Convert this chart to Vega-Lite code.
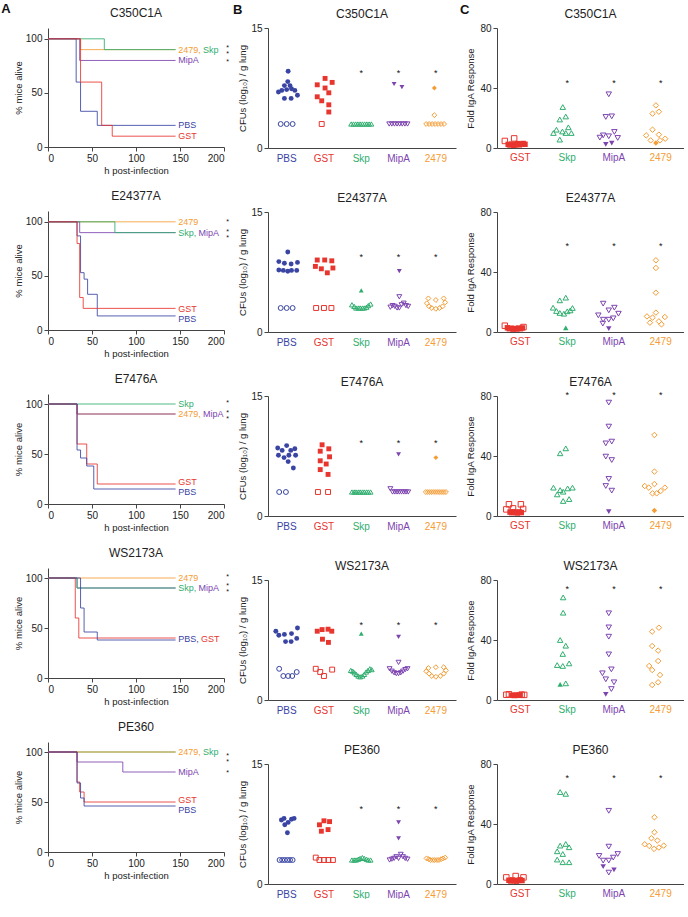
{
"$schema":"https://vega.github.io/schema/vega-lite/v6.json",
"padding":{"left":1,"top":3,"right":0,"bottom":0},
"datasets":{
"surv":[
{"st":"C350C1A","g":"2479","t":0,"s":100},{"st":"C350C1A","g":"2479","t":37,"s":90},{"st":"C350C1A","g":"2479","t":145,"s":90},
{"st":"C350C1A","g":"Skp","t":0,"s":100},{"st":"C350C1A","g":"Skp","t":64,"s":90},{"st":"C350C1A","g":"Skp","t":145,"s":90},
{"st":"C350C1A","g":"MipA","t":0,"s":100},{"st":"C350C1A","g":"MipA","t":36,"s":80},{"st":"C350C1A","g":"MipA","t":145,"s":80},
{"st":"C350C1A","g":"PBS","t":0,"s":100},{"st":"C350C1A","g":"PBS","t":32,"s":60},{"st":"C350C1A","g":"PBS","t":37,"s":33},{"st":"C350C1A","g":"PBS","t":56,"s":20},{"st":"C350C1A","g":"PBS","t":145,"s":20},
{"st":"C350C1A","g":"GST","t":0,"s":100},{"st":"C350C1A","g":"GST","t":37,"s":60},{"st":"C350C1A","g":"GST","t":61,"s":20},{"st":"C350C1A","g":"GST","t":73,"s":10},{"st":"C350C1A","g":"GST","t":145,"s":10},
{"st":"E24377A","g":"2479","t":0,"s":100},{"st":"E24377A","g":"2479","t":145,"s":100},
{"st":"E24377A","g":"MipA","t":0,"s":100},{"st":"E24377A","g":"MipA","t":36,"s":90},{"st":"E24377A","g":"MipA","t":145,"s":90},
{"st":"E24377A","g":"Skp","t":0,"s":100},{"st":"E24377A","g":"Skp","t":76,"s":90},{"st":"E24377A","g":"Skp","t":145,"s":90},
{"st":"E24377A","g":"PBS","t":0,"s":100},{"st":"E24377A","g":"PBS","t":33,"s":87},{"st":"E24377A","g":"PBS","t":37,"s":53},{"st":"E24377A","g":"PBS","t":41,"s":47},{"st":"E24377A","g":"PBS","t":45,"s":33},{"st":"E24377A","g":"PBS","t":56,"s":13},{"st":"E24377A","g":"PBS","t":145,"s":13},
{"st":"E24377A","g":"GST","t":0,"s":100},{"st":"E24377A","g":"GST","t":33,"s":80},{"st":"E24377A","g":"GST","t":36,"s":30},{"st":"E24377A","g":"GST","t":40,"s":20},{"st":"E24377A","g":"GST","t":145,"s":20},
{"st":"E7476A","g":"2479","t":0,"s":100},{"st":"E7476A","g":"2479","t":33,"s":90},{"st":"E7476A","g":"2479","t":145,"s":90},
{"st":"E7476A","g":"MipA","t":0,"s":100},{"st":"E7476A","g":"MipA","t":33,"s":90},{"st":"E7476A","g":"MipA","t":145,"s":90},
{"st":"E7476A","g":"Skp","t":0,"s":100},{"st":"E7476A","g":"Skp","t":145,"s":100},
{"st":"E7476A","g":"GST","t":0,"s":100},{"st":"E7476A","g":"GST","t":33,"s":60},{"st":"E7476A","g":"GST","t":44,"s":40},{"st":"E7476A","g":"GST","t":56,"s":20},{"st":"E7476A","g":"GST","t":145,"s":20},
{"st":"E7476A","g":"PBS","t":0,"s":100},{"st":"E7476A","g":"PBS","t":33,"s":54},{"st":"E7476A","g":"PBS","t":37,"s":46},{"st":"E7476A","g":"PBS","t":44,"s":38},{"st":"E7476A","g":"PBS","t":52,"s":15},{"st":"E7476A","g":"PBS","t":145,"s":15},
{"st":"WS2173A","g":"2479","t":0,"s":100},{"st":"WS2173A","g":"2479","t":145,"s":100},
{"st":"WS2173A","g":"MipA","t":0,"s":100},{"st":"WS2173A","g":"MipA","t":33,"s":90},{"st":"WS2173A","g":"MipA","t":145,"s":90},
{"st":"WS2173A","g":"Skp","t":0,"s":100},{"st":"WS2173A","g":"Skp","t":33,"s":90},{"st":"WS2173A","g":"Skp","t":145,"s":90},
{"st":"WS2173A","g":"GST","t":0,"s":100},{"st":"WS2173A","g":"GST","t":31,"s":60},{"st":"WS2173A","g":"GST","t":35,"s":40},{"st":"WS2173A","g":"GST","t":145,"s":40},
{"st":"WS2173A","g":"PBS","t":0,"s":100},{"st":"WS2173A","g":"PBS","t":37,"s":70},{"st":"WS2173A","g":"PBS","t":41,"s":46},{"st":"WS2173A","g":"PBS","t":56,"s":38},{"st":"WS2173A","g":"PBS","t":145,"s":38},
{"st":"PE360","g":"Skp","t":0,"s":100},{"st":"PE360","g":"Skp","t":145,"s":100},
{"st":"PE360","g":"2479","t":0,"s":100},{"st":"PE360","g":"2479","t":145,"s":100},
{"st":"PE360","g":"MipA","t":0,"s":100},{"st":"PE360","g":"MipA","t":33,"s":90},{"st":"PE360","g":"MipA","t":85,"s":80},{"st":"PE360","g":"MipA","t":145,"s":80},
{"st":"PE360","g":"GST","t":0,"s":100},{"st":"PE360","g":"GST","t":33,"s":70},{"st":"PE360","g":"GST","t":36,"s":60},{"st":"PE360","g":"GST","t":41,"s":50},{"st":"PE360","g":"GST","t":145,"s":50},
{"st":"PE360","g":"PBS","t":0,"s":100},{"st":"PE360","g":"PBS","t":33,"s":69},{"st":"PE360","g":"PBS","t":37,"s":54},{"st":"PE360","g":"PBS","t":41,"s":46},{"st":"PE360","g":"PBS","t":145,"s":46}
],
"survlab":[
{"st":"C350C1A","g":"2479","txt":"2479,","t":148,"s":90},{"st":"C350C1A","g":"Skp","txt":"Skp","t":176,"s":90},{"st":"C350C1A","g":"MipA","txt":"MipA","t":148,"s":80},{"st":"C350C1A","g":"PBS","txt":"PBS","t":148,"s":20},{"st":"C350C1A","g":"GST","txt":"GST","t":148,"s":10},
{"st":"E24377A","g":"2479","txt":"2479","t":148,"s":100},{"st":"E24377A","g":"Skp","txt":"Skp,","t":148,"s":90},{"st":"E24377A","g":"MipA","txt":"MipA","t":171,"s":90},{"st":"E24377A","g":"GST","txt":"GST","t":148,"s":19.5},{"st":"E24377A","g":"PBS","txt":"PBS","t":148,"s":10.5},
{"st":"E7476A","g":"Skp","txt":"Skp","t":148,"s":100},{"st":"E7476A","g":"2479","txt":"2479,","t":148,"s":90},{"st":"E7476A","g":"MipA","txt":"MipA","t":176,"s":90},{"st":"E7476A","g":"GST","txt":"GST","t":148,"s":22.5},{"st":"E7476A","g":"PBS","txt":"PBS","t":148,"s":12.5},
{"st":"WS2173A","g":"2479","txt":"2479","t":148,"s":100},{"st":"WS2173A","g":"Skp","txt":"Skp,","t":148,"s":90},{"st":"WS2173A","g":"MipA","txt":"MipA","t":171,"s":90},{"st":"WS2173A","g":"PBS","txt":"PBS,","t":148,"s":39},{"st":"WS2173A","g":"GST","txt":"GST","t":174,"s":39},
{"st":"PE360","g":"2479","txt":"2479,","t":148,"s":100},{"st":"PE360","g":"Skp","txt":"Skp","t":176,"s":100},{"st":"PE360","g":"MipA","txt":"MipA","t":148,"s":80},{"st":"PE360","g":"GST","txt":"GST","t":148,"s":52.5},{"st":"PE360","g":"PBS","txt":"PBS","t":148,"s":42.5}
],
"survstar":[
{"st":"C350C1A","t":204,"s":91.5,"txt":"*\n*"},{"st":"C350C1A","t":204,"s":79,"txt":"*"},
{"st":"E24377A","t":204,"s":100,"txt":"*"},{"st":"E24377A","t":204,"s":90.5,"txt":"*\n*"},
{"st":"E7476A","t":204,"s":101,"txt":"*"},{"st":"E7476A","t":204,"s":91.5,"txt":"*\n*"},
{"st":"WS2173A","t":204,"s":101,"txt":"*"},{"st":"WS2173A","t":204,"s":92,"txt":"*\n*"},
{"st":"PE360","t":204,"s":96.5,"txt":"*\n*"},{"st":"PE360","t":204,"s":79,"txt":"*"}
],
"cfu":[
{"st":"C350C1A","g":"PBS","o":0.4,"v":9.6,"f":1},{"st":"C350C1A","g":"PBS","o":0.3,"v":8.3,"f":1},{"st":"C350C1A","g":"PBS","o":0.9,"v":7.8,"f":1},{"st":"C350C1A","g":"PBS","o":-0.6,"v":7.8,"f":1},{"st":"C350C1A","g":"PBS","o":1.3,"v":7.4,"f":1},{"st":"C350C1A","g":"PBS","o":0,"v":7.3,"f":1},{"st":"C350C1A","g":"PBS","o":-1.3,"v":7.2,"f":1},{"st":"C350C1A","g":"PBS","o":-2.2,"v":7.0,"f":1},{"st":"C350C1A","g":"PBS","o":2.2,"v":7.2,"f":1},{"st":"C350C1A","g":"PBS","o":2.9,"v":6.6,"f":1},{"st":"C350C1A","g":"PBS","o":-0.6,"v":6.2,"f":1},{"st":"C350C1A","g":"PBS","o":1.2,"v":6.2,"f":1},
{"st":"C350C1A","g":"PBS","o":-1.6,"v":3,"f":0},{"st":"C350C1A","g":"PBS","o":0,"v":3,"f":0},{"st":"C350C1A","g":"PBS","o":1.6,"v":3,"f":0},
{"st":"C350C1A","g":"GST","o":0.3,"v":8.7,"f":1},{"st":"C350C1A","g":"GST","o":2.2,"v":8.2,"f":1},{"st":"C350C1A","g":"GST","o":-1.8,"v":7.9,"f":1},{"st":"C350C1A","g":"GST","o":0.3,"v":7.5,"f":1},{"st":"C350C1A","g":"GST","o":1.3,"v":6.9,"f":1},{"st":"C350C1A","g":"GST","o":-1.8,"v":6.4,"f":1},{"st":"C350C1A","g":"GST","o":-0.6,"v":5.9,"f":1},{"st":"C350C1A","g":"GST","o":1.3,"v":5.4,"f":1},{"st":"C350C1A","g":"GST","o":1.3,"v":4.5,"f":1},
{"st":"C350C1A","g":"GST","o":-0.6,"v":3,"f":0},
{"st":"C350C1A","g":"Skp","o":-2.7,"v":3,"f":0},{"st":"C350C1A","g":"Skp","o":-2.1,"v":3,"f":0},{"st":"C350C1A","g":"Skp","o":-1.5,"v":3,"f":0},{"st":"C350C1A","g":"Skp","o":-0.9,"v":3,"f":0},{"st":"C350C1A","g":"Skp","o":-0.3,"v":3,"f":0},{"st":"C350C1A","g":"Skp","o":0.3,"v":3,"f":0},{"st":"C350C1A","g":"Skp","o":0.9,"v":3,"f":0},{"st":"C350C1A","g":"Skp","o":1.5,"v":3,"f":0},{"st":"C350C1A","g":"Skp","o":2.1,"v":3,"f":0},{"st":"C350C1A","g":"Skp","o":2.7,"v":3,"f":0},
{"st":"C350C1A","g":"MipA","o":-1.2,"v":8.0,"f":1},{"st":"C350C1A","g":"MipA","o":0.9,"v":7.6,"f":1},
{"st":"C350C1A","g":"MipA","o":-2.5,"v":3,"f":0},{"st":"C350C1A","g":"MipA","o":-1.8,"v":3,"f":0},{"st":"C350C1A","g":"MipA","o":-1.1,"v":3,"f":0},{"st":"C350C1A","g":"MipA","o":-0.4,"v":3,"f":0},{"st":"C350C1A","g":"MipA","o":0.3,"v":3,"f":0},{"st":"C350C1A","g":"MipA","o":1.0,"v":3,"f":0},{"st":"C350C1A","g":"MipA","o":1.7,"v":3,"f":0},{"st":"C350C1A","g":"MipA","o":2.4,"v":3,"f":0},
{"st":"C350C1A","g":"2479","o":-0.4,"v":7.5,"f":1},
{"st":"C350C1A","g":"2479","o":-0.4,"v":4.1,"f":0},{"st":"C350C1A","g":"2479","o":-2.6,"v":3,"f":0},{"st":"C350C1A","g":"2479","o":-1.8,"v":3,"f":0},{"st":"C350C1A","g":"2479","o":-1.0,"v":3,"f":0},{"st":"C350C1A","g":"2479","o":-0.2,"v":3,"f":0},{"st":"C350C1A","g":"2479","o":0.6,"v":3,"f":0},{"st":"C350C1A","g":"2479","o":1.4,"v":3,"f":0},{"st":"C350C1A","g":"2479","o":2.2,"v":3,"f":0},

{"st":"E24377A","g":"PBS","o":0.3,"v":10.0,"f":1},{"st":"E24377A","g":"PBS","o":-2.1,"v":8.8,"f":1},{"st":"E24377A","g":"PBS","o":-0.6,"v":8.6,"f":1},{"st":"E24377A","g":"PBS","o":1.2,"v":8.5,"f":1},{"st":"E24377A","g":"PBS","o":2.9,"v":8.7,"f":1},{"st":"E24377A","g":"PBS","o":-2.1,"v":7.75,"f":1},{"st":"E24377A","g":"PBS","o":-0.9,"v":7.7,"f":1},{"st":"E24377A","g":"PBS","o":0.3,"v":7.6,"f":1},{"st":"E24377A","g":"PBS","o":1.3,"v":7.7,"f":1},{"st":"E24377A","g":"PBS","o":2.7,"v":7.7,"f":1},
{"st":"E24377A","g":"PBS","o":-1.6,"v":3,"f":0},{"st":"E24377A","g":"PBS","o":0,"v":3,"f":0},{"st":"E24377A","g":"PBS","o":1.6,"v":3,"f":0},
{"st":"E24377A","g":"GST","o":-1.8,"v":9.0,"f":1},{"st":"E24377A","g":"GST","o":0.2,"v":9.0,"f":1},{"st":"E24377A","g":"GST","o":2.1,"v":8.9,"f":1},{"st":"E24377A","g":"GST","o":-2.3,"v":8.2,"f":1},{"st":"E24377A","g":"GST","o":-0.7,"v":7.9,"f":1},{"st":"E24377A","g":"GST","o":0.9,"v":7.4,"f":1},{"st":"E24377A","g":"GST","o":2.4,"v":8.0,"f":1},
{"st":"E24377A","g":"GST","o":-2.1,"v":3,"f":0},{"st":"E24377A","g":"GST","o":0,"v":3,"f":0},{"st":"E24377A","g":"GST","o":2.0,"v":3,"f":0},
{"st":"E24377A","g":"Skp","o":0,"v":5.2,"f":1},
{"st":"E24377A","g":"Skp","o":-2.5,"v":3.4,"f":0},{"st":"E24377A","g":"Skp","o":-1.9,"v":3.2,"f":0},{"st":"E24377A","g":"Skp","o":-1.4,"v":3.0,"f":0},{"st":"E24377A","g":"Skp","o":-0.8,"v":3.0,"f":0},{"st":"E24377A","g":"Skp","o":-0.3,"v":3.0,"f":0},{"st":"E24377A","g":"Skp","o":0.3,"v":3.0,"f":0},{"st":"E24377A","g":"Skp","o":0.8,"v":3.0,"f":0},{"st":"E24377A","g":"Skp","o":1.4,"v":3.1,"f":0},{"st":"E24377A","g":"Skp","o":1.9,"v":3.3,"f":0},{"st":"E24377A","g":"Skp","o":2.5,"v":3.5,"f":0},
{"st":"E24377A","g":"MipA","o":0.2,"v":7.6,"f":1},
{"st":"E24377A","g":"MipA","o":0.2,"v":4.4,"f":0},{"st":"E24377A","g":"MipA","o":-2.2,"v":3.1,"f":0},{"st":"E24377A","g":"MipA","o":-1.6,"v":3.3,"f":0},{"st":"E24377A","g":"MipA","o":-1.0,"v":3.2,"f":0},{"st":"E24377A","g":"MipA","o":-0.4,"v":3.0,"f":0},{"st":"E24377A","g":"MipA","o":0.2,"v":3.0,"f":0},{"st":"E24377A","g":"MipA","o":0.8,"v":3.4,"f":0},{"st":"E24377A","g":"MipA","o":1.4,"v":3.6,"f":0},{"st":"E24377A","g":"MipA","o":2.0,"v":3.3,"f":0},{"st":"E24377A","g":"MipA","o":2.6,"v":3.2,"f":0},
{"st":"E24377A","g":"2479","o":-2.0,"v":4.2,"f":0},{"st":"E24377A","g":"2479","o":0,"v":4.0,"f":0},{"st":"E24377A","g":"2479","o":2.1,"v":4.2,"f":0},{"st":"E24377A","g":"2479","o":-2.4,"v":3.6,"f":0},{"st":"E24377A","g":"2479","o":-1.8,"v":3.2,"f":0},{"st":"E24377A","g":"2479","o":-1.1,"v":3.0,"f":0},{"st":"E24377A","g":"2479","o":0,"v":2.9,"f":0},{"st":"E24377A","g":"2479","o":1.0,"v":3.0,"f":0},{"st":"E24377A","g":"2479","o":1.8,"v":3.2,"f":0},{"st":"E24377A","g":"2479","o":2.5,"v":3.7,"f":0},

{"st":"E7476A","g":"PBS","o":0,"v":8.8,"f":1},{"st":"E7476A","g":"PBS","o":-2.4,"v":8.5,"f":1},{"st":"E7476A","g":"PBS","o":-1.2,"v":8.2,"f":1},{"st":"E7476A","g":"PBS","o":1.1,"v":8.2,"f":1},{"st":"E7476A","g":"PBS","o":2.2,"v":8.4,"f":1},{"st":"E7476A","g":"PBS","o":-2.2,"v":7.6,"f":1},{"st":"E7476A","g":"PBS","o":-0.7,"v":7.3,"f":1},{"st":"E7476A","g":"PBS","o":0.6,"v":7.6,"f":1},{"st":"E7476A","g":"PBS","o":2.4,"v":7.6,"f":1},{"st":"E7476A","g":"PBS","o":0.4,"v":6.8,"f":1},{"st":"E7476A","g":"PBS","o":1.8,"v":6.0,"f":1},
{"st":"E7476A","g":"PBS","o":-2.0,"v":3,"f":0},{"st":"E7476A","g":"PBS","o":-0.2,"v":3,"f":0},
{"st":"E7476A","g":"GST","o":-0.5,"v":8.9,"f":1},{"st":"E7476A","g":"GST","o":1.3,"v":8.4,"f":1},{"st":"E7476A","g":"GST","o":-1.0,"v":8.1,"f":1},{"st":"E7476A","g":"GST","o":1.5,"v":7.4,"f":1},{"st":"E7476A","g":"GST","o":-1.0,"v":6.9,"f":1},{"st":"E7476A","g":"GST","o":0.6,"v":6.5,"f":1},{"st":"E7476A","g":"GST","o":-1.0,"v":5.8,"f":1},{"st":"E7476A","g":"GST","o":1.1,"v":5.2,"f":1},
{"st":"E7476A","g":"GST","o":-1.6,"v":3,"f":0},{"st":"E7476A","g":"GST","o":1.1,"v":3,"f":0},
{"st":"E7476A","g":"Skp","o":-2.5,"v":3,"f":0},{"st":"E7476A","g":"Skp","o":-1.9,"v":3,"f":0},{"st":"E7476A","g":"Skp","o":-1.4,"v":3,"f":0},{"st":"E7476A","g":"Skp","o":-0.8,"v":3,"f":0},{"st":"E7476A","g":"Skp","o":-0.3,"v":3,"f":0},{"st":"E7476A","g":"Skp","o":0.3,"v":3,"f":0},{"st":"E7476A","g":"Skp","o":0.8,"v":3,"f":0},{"st":"E7476A","g":"Skp","o":1.4,"v":3,"f":0},{"st":"E7476A","g":"Skp","o":1.9,"v":3,"f":0},{"st":"E7476A","g":"Skp","o":2.5,"v":3,"f":0},
{"st":"E7476A","g":"MipA","o":0,"v":7.7,"f":1},
{"st":"E7476A","g":"MipA","o":-2.2,"v":3.4,"f":0},{"st":"E7476A","g":"MipA","o":-1.6,"v":3,"f":0},{"st":"E7476A","g":"MipA","o":-1.0,"v":3,"f":0},{"st":"E7476A","g":"MipA","o":-0.4,"v":3,"f":0},{"st":"E7476A","g":"MipA","o":0.2,"v":3,"f":0},{"st":"E7476A","g":"MipA","o":0.8,"v":3,"f":0},{"st":"E7476A","g":"MipA","o":1.4,"v":3,"f":0},{"st":"E7476A","g":"MipA","o":2.0,"v":3,"f":0},{"st":"E7476A","g":"MipA","o":2.6,"v":3,"f":0},
{"st":"E7476A","g":"2479","o":0,"v":7.3,"f":1},
{"st":"E7476A","g":"2479","o":-2.7,"v":3,"f":0},{"st":"E7476A","g":"2479","o":-2.16,"v":3,"f":0},{"st":"E7476A","g":"2479","o":-1.62,"v":3,"f":0},{"st":"E7476A","g":"2479","o":-1.08,"v":3,"f":0},{"st":"E7476A","g":"2479","o":-0.54,"v":3,"f":0},{"st":"E7476A","g":"2479","o":0,"v":3,"f":0},{"st":"E7476A","g":"2479","o":0.54,"v":3,"f":0},{"st":"E7476A","g":"2479","o":1.08,"v":3,"f":0},{"st":"E7476A","g":"2479","o":1.62,"v":3,"f":0},{"st":"E7476A","g":"2479","o":2.16,"v":3,"f":0},{"st":"E7476A","g":"2479","o":2.7,"v":3,"f":0},

{"st":"WS2173A","g":"PBS","o":-2.9,"v":8.6,"f":1},{"st":"WS2173A","g":"PBS","o":-2.1,"v":8.1,"f":1},{"st":"WS2173A","g":"PBS","o":-0.6,"v":8.2,"f":1},{"st":"WS2173A","g":"PBS","o":1.3,"v":8.3,"f":1},{"st":"WS2173A","g":"PBS","o":2.9,"v":9.0,"f":1},{"st":"WS2173A","g":"PBS","o":-0.3,"v":7.3,"f":1},{"st":"WS2173A","g":"PBS","o":1.2,"v":7.3,"f":1},{"st":"WS2173A","g":"PBS","o":2.7,"v":7.7,"f":1},
{"st":"WS2173A","g":"PBS","o":-2.0,"v":3.9,"f":0},{"st":"WS2173A","g":"PBS","o":-0.9,"v":3.0,"f":0},{"st":"WS2173A","g":"PBS","o":0.4,"v":3.0,"f":0},{"st":"WS2173A","g":"PBS","o":1.5,"v":3.0,"f":0},{"st":"WS2173A","g":"PBS","o":2.7,"v":3.5,"f":0},
{"st":"WS2173A","g":"GST","o":-1.8,"v":8.6,"f":1},{"st":"WS2173A","g":"GST","o":-0.5,"v":8.8,"f":1},{"st":"WS2173A","g":"GST","o":1.1,"v":8.85,"f":1},{"st":"WS2173A","g":"GST","o":2.1,"v":8.6,"f":1},{"st":"WS2173A","g":"GST","o":-0.4,"v":7.6,"f":1},{"st":"WS2173A","g":"GST","o":1.2,"v":7.2,"f":1},
{"st":"WS2173A","g":"GST","o":-2.2,"v":3.9,"f":0},{"st":"WS2173A","g":"GST","o":-1.0,"v":3.5,"f":0},{"st":"WS2173A","g":"GST","o":0,"v":3.0,"f":0},{"st":"WS2173A","g":"GST","o":2.2,"v":3.8,"f":0},
{"st":"WS2173A","g":"Skp","o":0,"v":8.3,"f":1},
{"st":"WS2173A","g":"Skp","o":-2.8,"v":3.7,"f":0},{"st":"WS2173A","g":"Skp","o":-2.3,"v":3.6,"f":0},{"st":"WS2173A","g":"Skp","o":-1.8,"v":3.4,"f":0},{"st":"WS2173A","g":"Skp","o":-1.3,"v":3.2,"f":0},{"st":"WS2173A","g":"Skp","o":-0.8,"v":3.0,"f":0},{"st":"WS2173A","g":"Skp","o":-0.3,"v":2.9,"f":0},{"st":"WS2173A","g":"Skp","o":0.3,"v":3.0,"f":0},{"st":"WS2173A","g":"Skp","o":0.8,"v":3.2,"f":0},{"st":"WS2173A","g":"Skp","o":1.3,"v":3.5,"f":0},{"st":"WS2173A","g":"Skp","o":1.8,"v":3.7,"f":0},{"st":"WS2173A","g":"Skp","o":2.3,"v":3.9,"f":0},{"st":"WS2173A","g":"Skp","o":2.8,"v":3.8,"f":0},
{"st":"WS2173A","g":"MipA","o":0,"v":7.9,"f":1},
{"st":"WS2173A","g":"MipA","o":0,"v":4.7,"f":0},{"st":"WS2173A","g":"MipA","o":-2.4,"v":3.9,"f":0},{"st":"WS2173A","g":"MipA","o":-1.8,"v":3.6,"f":0},{"st":"WS2173A","g":"MipA","o":-1.2,"v":3.4,"f":0},{"st":"WS2173A","g":"MipA","o":-0.6,"v":3.3,"f":0},{"st":"WS2173A","g":"MipA","o":0,"v":3.3,"f":0},{"st":"WS2173A","g":"MipA","o":0.6,"v":3.4,"f":0},{"st":"WS2173A","g":"MipA","o":1.2,"v":3.6,"f":0},{"st":"WS2173A","g":"MipA","o":1.8,"v":3.8,"f":0},{"st":"WS2173A","g":"MipA","o":2.4,"v":3.9,"f":0},
{"st":"WS2173A","g":"2479","o":-2.0,"v":4.0,"f":0},{"st":"WS2173A","g":"2479","o":0,"v":4.1,"f":0},{"st":"WS2173A","g":"2479","o":2.1,"v":4.1,"f":0},{"st":"WS2173A","g":"2479","o":-2.6,"v":3.6,"f":0},{"st":"WS2173A","g":"2479","o":-1.8,"v":3.3,"f":0},{"st":"WS2173A","g":"2479","o":-1.1,"v":3.0,"f":0},{"st":"WS2173A","g":"2479","o":0,"v":2.9,"f":0},{"st":"WS2173A","g":"2479","o":1.2,"v":3.0,"f":0},{"st":"WS2173A","g":"2479","o":2.1,"v":3.3,"f":0},{"st":"WS2173A","g":"2479","o":2.7,"v":3.7,"f":0},

{"st":"PE360","g":"PBS","o":-1.4,"v":8.0,"f":1},{"st":"PE360","g":"PBS","o":-0.7,"v":8.2,"f":1},{"st":"PE360","g":"PBS","o":1.3,"v":8.1,"f":1},{"st":"PE360","g":"PBS","o":2.0,"v":8.2,"f":1},{"st":"PE360","g":"PBS","o":0.4,"v":7.7,"f":1},{"st":"PE360","g":"PBS","o":-0.5,"v":7.4,"f":1},{"st":"PE360","g":"PBS","o":0.2,"v":6.4,"f":1},
{"st":"PE360","g":"PBS","o":-1.9,"v":3,"f":0},{"st":"PE360","g":"PBS","o":-1.2,"v":3,"f":0},{"st":"PE360","g":"PBS","o":-0.5,"v":3,"f":0},{"st":"PE360","g":"PBS","o":0.2,"v":3,"f":0},{"st":"PE360","g":"PBS","o":0.9,"v":3,"f":0},{"st":"PE360","g":"PBS","o":1.6,"v":3,"f":0},
{"st":"PE360","g":"GST","o":-1.2,"v":7.4,"f":1},{"st":"PE360","g":"GST","o":0,"v":7.9,"f":1},{"st":"PE360","g":"GST","o":1.5,"v":7.8,"f":1},{"st":"PE360","g":"GST","o":-0.7,"v":6.6,"f":1},{"st":"PE360","g":"GST","o":1.1,"v":6.8,"f":1},
{"st":"PE360","g":"GST","o":-2.2,"v":3.3,"f":0},{"st":"PE360","g":"GST","o":-1.2,"v":3.0,"f":0},{"st":"PE360","g":"GST","o":0,"v":3.0,"f":0},{"st":"PE360","g":"GST","o":1.2,"v":3.0,"f":0},{"st":"PE360","g":"GST","o":2.4,"v":3.0,"f":0},
{"st":"PE360","g":"Skp","o":-2.5,"v":3.0,"f":0},{"st":"PE360","g":"Skp","o":-1.9,"v":3.0,"f":0},{"st":"PE360","g":"Skp","o":-1.4,"v":3.0,"f":0},{"st":"PE360","g":"Skp","o":-0.8,"v":3.1,"f":0},{"st":"PE360","g":"Skp","o":-0.3,"v":3.2,"f":0},{"st":"PE360","g":"Skp","o":0.3,"v":3.3,"f":0},{"st":"PE360","g":"Skp","o":0.8,"v":3.2,"f":0},{"st":"PE360","g":"Skp","o":1.4,"v":3.1,"f":0},{"st":"PE360","g":"Skp","o":1.9,"v":3.0,"f":0},{"st":"PE360","g":"Skp","o":2.5,"v":3.0,"f":0},
{"st":"PE360","g":"MipA","o":0,"v":7.7,"f":1},{"st":"PE360","g":"MipA","o":0,"v":5.7,"f":1},
{"st":"PE360","g":"MipA","o":-2.4,"v":3.0,"f":0},{"st":"PE360","g":"MipA","o":-1.8,"v":3.1,"f":0},{"st":"PE360","g":"MipA","o":-1.2,"v":3.2,"f":0},{"st":"PE360","g":"MipA","o":-0.6,"v":3.4,"f":0},{"st":"PE360","g":"MipA","o":0,"v":3.2,"f":0},{"st":"PE360","g":"MipA","o":0.6,"v":3.7,"f":0},{"st":"PE360","g":"MipA","o":1.2,"v":3.4,"f":0},{"st":"PE360","g":"MipA","o":1.8,"v":3.2,"f":0},{"st":"PE360","g":"MipA","o":2.4,"v":3.1,"f":0},
{"st":"PE360","g":"2479","o":-2.5,"v":3.2,"f":0},{"st":"PE360","g":"2479","o":-1.9,"v":3.1,"f":0},{"st":"PE360","g":"2479","o":-1.4,"v":3.0,"f":0},{"st":"PE360","g":"2479","o":-0.8,"v":3.0,"f":0},{"st":"PE360","g":"2479","o":-0.3,"v":3.0,"f":0},{"st":"PE360","g":"2479","o":0.3,"v":3.0,"f":0},{"st":"PE360","g":"2479","o":0.8,"v":3.0,"f":0},{"st":"PE360","g":"2479","o":1.4,"v":3.1,"f":0},{"st":"PE360","g":"2479","o":1.9,"v":3.2,"f":0},{"st":"PE360","g":"2479","o":2.5,"v":3.3,"f":0}
],
"cfustar":[
{"st":"C350C1A","g":"Skp","v":9.4},{"st":"C350C1A","g":"MipA","v":9.4},{"st":"C350C1A","g":"2479","v":9.4},
{"st":"E24377A","g":"Skp","v":9.4},{"st":"E24377A","g":"MipA","v":9.4},{"st":"E24377A","g":"2479","v":9.4},
{"st":"E7476A","g":"Skp","v":9.1},{"st":"E7476A","g":"MipA","v":9.1},{"st":"E7476A","g":"2479","v":9.1},
{"st":"WS2173A","g":"Skp","v":9.4},{"st":"WS2173A","g":"MipA","v":9.4},{"st":"WS2173A","g":"2479","v":9.4},
{"st":"PE360","g":"Skp","v":9.4},{"st":"PE360","g":"MipA","v":9.4},{"st":"PE360","g":"2479","v":9.4}
],
"iga":[
{"st":"C350C1A","g":"GST","o":-2.9,"v":4.7,"f":0},{"st":"C350C1A","g":"GST","o":-0.4,"v":6.4,"f":0},
{"st":"C350C1A","g":"GST","o":-2.0,"v":2.4,"f":1},{"st":"C350C1A","g":"GST","o":-1.5,"v":2.0,"f":1},{"st":"C350C1A","g":"GST","o":-1.0,"v":2.6,"f":1},{"st":"C350C1A","g":"GST","o":-0.5,"v":1.8,"f":1},{"st":"C350C1A","g":"GST","o":0,"v":2.2,"f":1},{"st":"C350C1A","g":"GST","o":0.5,"v":2.9,"f":1},{"st":"C350C1A","g":"GST","o":1.0,"v":2.1,"f":1},{"st":"C350C1A","g":"GST","o":1.5,"v":2.7,"f":1},{"st":"C350C1A","g":"GST","o":2.0,"v":3.0,"f":1},{"st":"C350C1A","g":"GST","o":2.5,"v":2.5,"f":1},
{"st":"C350C1A","g":"Skp","o":0.1,"v":27.3,"f":0},{"st":"C350C1A","g":"Skp","o":-0.7,"v":19,"f":0},{"st":"C350C1A","g":"Skp","o":0.9,"v":21,"f":0},{"st":"C350C1A","g":"Skp","o":-1.6,"v":12.2,"f":0},{"st":"C350C1A","g":"Skp","o":-2.4,"v":10,"f":0},{"st":"C350C1A","g":"Skp","o":0,"v":11,"f":0},{"st":"C350C1A","g":"Skp","o":1.6,"v":13.8,"f":0},{"st":"C350C1A","g":"Skp","o":0.9,"v":10,"f":0},{"st":"C350C1A","g":"Skp","o":2.4,"v":10,"f":0},{"st":"C350C1A","g":"Skp","o":-0.7,"v":5.6,"f":0},
{"st":"C350C1A","g":"MipA","o":-0.1,"v":35.8,"f":0},{"st":"C350C1A","g":"MipA","o":-0.9,"v":20.7,"f":0},{"st":"C350C1A","g":"MipA","o":0.7,"v":21.1,"f":0},{"st":"C350C1A","g":"MipA","o":-2.5,"v":6.9,"f":0},{"st":"C350C1A","g":"MipA","o":-1.6,"v":8.4,"f":0},{"st":"C350C1A","g":"MipA","o":-0.1,"v":7.8,"f":0},{"st":"C350C1A","g":"MipA","o":1.4,"v":10.7,"f":0},{"st":"C350C1A","g":"MipA","o":2.3,"v":6.7,"f":0},
{"st":"C350C1A","g":"MipA","o":-0.9,"v":2.4,"f":1},{"st":"C350C1A","g":"MipA","o":0.7,"v":3.3,"f":1},
{"st":"C350C1A","g":"2479","o":0,"v":28.4,"f":0},{"st":"C350C1A","g":"2479","o":-0.9,"v":22.9,"f":0},{"st":"C350C1A","g":"2479","o":0.8,"v":24.2,"f":0},{"st":"C350C1A","g":"2479","o":-0.9,"v":12.2,"f":0},{"st":"C350C1A","g":"2479","o":0.8,"v":8.9,"f":0},{"st":"C350C1A","g":"2479","o":-2.6,"v":8.4,"f":0},{"st":"C350C1A","g":"2479","o":-1.4,"v":5.1,"f":0},{"st":"C350C1A","g":"2479","o":1.1,"v":5.1,"f":0},{"st":"C350C1A","g":"2479","o":2.5,"v":6.2,"f":0},
{"st":"C350C1A","g":"2479","o":0,"v":3.3,"f":1},

{"st":"E24377A","g":"GST","o":-2.9,"v":4.2,"f":0},{"st":"E24377A","g":"GST","o":2.1,"v":3.3,"f":0},
{"st":"E24377A","g":"GST","o":-2.2,"v":2.8,"f":1},{"st":"E24377A","g":"GST","o":-1.7,"v":2.2,"f":1},{"st":"E24377A","g":"GST","o":-1.2,"v":2.5,"f":1},{"st":"E24377A","g":"GST","o":-0.7,"v":1.9,"f":1},{"st":"E24377A","g":"GST","o":-0.2,"v":2.3,"f":1},{"st":"E24377A","g":"GST","o":0.3,"v":2.0,"f":1},{"st":"E24377A","g":"GST","o":0.8,"v":2.6,"f":1},{"st":"E24377A","g":"GST","o":1.3,"v":2.2,"f":1},{"st":"E24377A","g":"GST","o":1.8,"v":2.7,"f":1},
{"st":"E24377A","g":"Skp","o":-0.7,"v":21.1,"f":0},{"st":"E24377A","g":"Skp","o":0.9,"v":22.9,"f":0},{"st":"E24377A","g":"Skp","o":-2.5,"v":16.2,"f":0},{"st":"E24377A","g":"Skp","o":-1.6,"v":14,"f":0},{"st":"E24377A","g":"Skp","o":-0.7,"v":12.7,"f":0},{"st":"E24377A","g":"Skp","o":0.4,"v":12.2,"f":0},{"st":"E24377A","g":"Skp","o":1.3,"v":13.8,"f":0},{"st":"E24377A","g":"Skp","o":2.1,"v":14.4,"f":0},{"st":"E24377A","g":"Skp","o":2.7,"v":16,"f":0},
{"st":"E24377A","g":"Skp","o":0.9,"v":2.7,"f":1},
{"st":"E24377A","g":"MipA","o":-1.6,"v":18.9,"f":0},{"st":"E24377A","g":"MipA","o":-0.1,"v":14.4,"f":0},{"st":"E24377A","g":"MipA","o":1.4,"v":16.2,"f":0},{"st":"E24377A","g":"MipA","o":-2.9,"v":11.1,"f":0},{"st":"E24377A","g":"MipA","o":-1.6,"v":8.2,"f":0},{"st":"E24377A","g":"MipA","o":-0.1,"v":8.2,"f":0},{"st":"E24377A","g":"MipA","o":1.1,"v":9.1,"f":0},{"st":"E24377A","g":"MipA","o":2.5,"v":12.2,"f":0},{"st":"E24377A","g":"MipA","o":-1.7,"v":5.6,"f":0},
{"st":"E24377A","g":"MipA","o":-0.1,"v":2.2,"f":1},
{"st":"E24377A","g":"2479","o":0,"v":47.8,"f":0},{"st":"E24377A","g":"2479","o":0,"v":42.7,"f":0},{"st":"E24377A","g":"2479","o":0,"v":26.2,"f":0},{"st":"E24377A","g":"2479","o":0,"v":12.9,"f":0},{"st":"E24377A","g":"2479","o":-2.4,"v":10.4,"f":0},{"st":"E24377A","g":"2479","o":-0.9,"v":9.6,"f":0},{"st":"E24377A","g":"2479","o":-1.6,"v":6.2,"f":0},{"st":"E24377A","g":"2479","o":0.8,"v":7.1,"f":0},{"st":"E24377A","g":"2479","o":2.4,"v":10,"f":0},{"st":"E24377A","g":"2479","o":1.5,"v":5.1,"f":0},

{"st":"E7476A","g":"GST","o":-1.8,"v":7.8,"f":0},{"st":"E7476A","g":"GST","o":1.4,"v":7.8,"f":0},{"st":"E7476A","g":"GST","o":-2.5,"v":4.4,"f":0},{"st":"E7476A","g":"GST","o":2.0,"v":4.7,"f":0},{"st":"E7476A","g":"GST","o":-0.7,"v":5.1,"f":0},
{"st":"E7476A","g":"GST","o":-1.5,"v":2.6,"f":1},{"st":"E7476A","g":"GST","o":-1.0,"v":2.2,"f":1},{"st":"E7476A","g":"GST","o":-0.5,"v":2.8,"f":1},{"st":"E7476A","g":"GST","o":0,"v":2.4,"f":1},{"st":"E7476A","g":"GST","o":0.5,"v":2.0,"f":1},{"st":"E7476A","g":"GST","o":1.0,"v":2.7,"f":1},{"st":"E7476A","g":"GST","o":1.5,"v":2.3,"f":1},
{"st":"E7476A","g":"Skp","o":-0.6,"v":41.8,"f":0},{"st":"E7476A","g":"Skp","o":0.9,"v":45.1,"f":0},{"st":"E7476A","g":"Skp","o":-2.4,"v":18.9,"f":0},{"st":"E7476A","g":"Skp","o":-0.6,"v":17.3,"f":0},{"st":"E7476A","g":"Skp","o":-1.4,"v":14.4,"f":0},{"st":"E7476A","g":"Skp","o":0.2,"v":16.2,"f":0},{"st":"E7476A","g":"Skp","o":1.4,"v":18.4,"f":0},{"st":"E7476A","g":"Skp","o":2.7,"v":18.9,"f":0},{"st":"E7476A","g":"Skp","o":0.2,"v":10,"f":0},{"st":"E7476A","g":"Skp","o":1.8,"v":11.3,"f":0},
{"st":"E7476A","g":"MipA","o":-0.1,"v":75.6,"f":0},{"st":"E7476A","g":"MipA","o":-0.1,"v":59.6,"f":0},{"st":"E7476A","g":"MipA","o":-0.9,"v":48.4,"f":0},{"st":"E7476A","g":"MipA","o":0.7,"v":49.6,"f":0},{"st":"E7476A","g":"MipA","o":-0.9,"v":39.6,"f":0},{"st":"E7476A","g":"MipA","o":0.7,"v":37.3,"f":0},{"st":"E7476A","g":"MipA","o":-0.1,"v":24.7,"f":0},{"st":"E7476A","g":"MipA","o":-0.9,"v":20,"f":0},{"st":"E7476A","g":"MipA","o":0.7,"v":16.9,"f":0},
{"st":"E7476A","g":"MipA","o":-0.1,"v":2.9,"f":1},
{"st":"E7476A","g":"2479","o":-0.4,"v":54,"f":0},{"st":"E7476A","g":"2479","o":-0.4,"v":29.6,"f":0},{"st":"E7476A","g":"2479","o":-0.4,"v":21.3,"f":0},{"st":"E7476A","g":"2479","o":-3.0,"v":20,"f":0},{"st":"E7476A","g":"2479","o":-1.9,"v":18.9,"f":0},{"st":"E7476A","g":"2479","o":-0.9,"v":15.1,"f":0},{"st":"E7476A","g":"2479","o":0.2,"v":15.1,"f":0},{"st":"E7476A","g":"2479","o":1.3,"v":16.7,"f":0},{"st":"E7476A","g":"2479","o":2.4,"v":18.9,"f":0},
{"st":"E7476A","g":"2479","o":-0.4,"v":3.6,"f":1},

{"st":"WS2173A","g":"GST","o":-2.5,"v":3.5,"f":0},{"st":"WS2173A","g":"GST","o":-1.8,"v":3.8,"f":0},{"st":"WS2173A","g":"GST","o":1.6,"v":3.6,"f":0},{"st":"WS2173A","g":"GST","o":2.3,"v":3.4,"f":0},
{"st":"WS2173A","g":"GST","o":-1.0,"v":3.2,"f":1},{"st":"WS2173A","g":"GST","o":-0.4,"v":3.0,"f":1},{"st":"WS2173A","g":"GST","o":0.2,"v":3.3,"f":1},{"st":"WS2173A","g":"GST","o":0.8,"v":3.1,"f":1},{"st":"WS2173A","g":"GST","o":1.2,"v":3.4,"f":1},
{"st":"WS2173A","g":"Skp","o":0.2,"v":68.4,"f":0},{"st":"WS2173A","g":"Skp","o":0.2,"v":58.2,"f":0},{"st":"WS2173A","g":"Skp","o":-0.6,"v":40,"f":0},{"st":"WS2173A","g":"Skp","o":0.9,"v":36.2,"f":0},{"st":"WS2173A","g":"Skp","o":0.1,"v":30.7,"f":0},{"st":"WS2173A","g":"Skp","o":-1.4,"v":23.3,"f":0},{"st":"WS2173A","g":"Skp","o":0.1,"v":22.7,"f":0},{"st":"WS2173A","g":"Skp","o":1.8,"v":24.4,"f":0},{"st":"WS2173A","g":"Skp","o":0.9,"v":11.1,"f":0},
{"st":"WS2173A","g":"Skp","o":-0.6,"v":10.4,"f":1},
{"st":"WS2173A","g":"MipA","o":-0.1,"v":57.8,"f":0},{"st":"WS2173A","g":"MipA","o":-0.1,"v":48.4,"f":0},{"st":"WS2173A","g":"MipA","o":-0.1,"v":42.2,"f":0},{"st":"WS2173A","g":"MipA","o":-0.1,"v":30.4,"f":0},{"st":"WS2173A","g":"MipA","o":0.6,"v":20.4,"f":0},{"st":"WS2173A","g":"MipA","o":-1.8,"v":17.8,"f":0},{"st":"WS2173A","g":"MipA","o":-0.9,"v":13.8,"f":0},{"st":"WS2173A","g":"MipA","o":1.3,"v":11.8,"f":0},{"st":"WS2173A","g":"MipA","o":0.6,"v":7.3,"f":0},
{"st":"WS2173A","g":"MipA","o":-0.9,"v":3.8,"f":1},
{"st":"WS2173A","g":"2479","o":0.8,"v":48.2,"f":0},{"st":"WS2173A","g":"2479","o":-1.0,"v":45.6,"f":0},{"st":"WS2173A","g":"2479","o":-1.0,"v":36,"f":0},{"st":"WS2173A","g":"2479","o":0.6,"v":32.9,"f":0},{"st":"WS2173A","g":"2479","o":0.6,"v":26,"f":0},{"st":"WS2173A","g":"2479","o":-1.8,"v":22.7,"f":0},{"st":"WS2173A","g":"2479","o":-1.0,"v":20,"f":0},{"st":"WS2173A","g":"2479","o":1.1,"v":16.7,"f":0},{"st":"WS2173A","g":"2479","o":-1.0,"v":10,"f":0},{"st":"WS2173A","g":"2479","o":0.6,"v":11.8,"f":0},

{"st":"PE360","g":"GST","o":-2.5,"v":4.4,"f":0},{"st":"PE360","g":"GST","o":0,"v":5.3,"f":0},{"st":"PE360","g":"GST","o":2.1,"v":4.4,"f":0},
{"st":"PE360","g":"GST","o":-1.8,"v":2.5,"f":1},{"st":"PE360","g":"GST","o":-1.3,"v":2.0,"f":1},{"st":"PE360","g":"GST","o":-0.8,"v":2.7,"f":1},{"st":"PE360","g":"GST","o":-0.3,"v":2.2,"f":1},{"st":"PE360","g":"GST","o":0.2,"v":1.9,"f":1},{"st":"PE360","g":"GST","o":0.7,"v":2.4,"f":1},{"st":"PE360","g":"GST","o":1.2,"v":2.8,"f":1},{"st":"PE360","g":"GST","o":1.7,"v":2.3,"f":1},
{"st":"PE360","g":"Skp","o":-0.6,"v":61.3,"f":0},{"st":"PE360","g":"Skp","o":0.9,"v":60.1,"f":0},{"st":"PE360","g":"Skp","o":-0.6,"v":25.6,"f":0},{"st":"PE360","g":"Skp","o":0.9,"v":26.7,"f":0},{"st":"PE360","g":"Skp","o":1.8,"v":24.5,"f":0},{"st":"PE360","g":"Skp","o":-1.4,"v":21.8,"f":0},{"st":"PE360","g":"Skp","o":0.1,"v":20,"f":0},{"st":"PE360","g":"Skp","o":-1.4,"v":16.3,"f":0},{"st":"PE360","g":"Skp","o":0.1,"v":14.5,"f":0},{"st":"PE360","g":"Skp","o":1.8,"v":14.5,"f":0},
{"st":"PE360","g":"MipA","o":-0.1,"v":48.8,"f":0},{"st":"PE360","g":"MipA","o":-0.1,"v":24.9,"f":0},{"st":"PE360","g":"MipA","o":-2.7,"v":18.7,"f":0},{"st":"PE360","g":"MipA","o":-1.6,"v":15.6,"f":0},{"st":"PE360","g":"MipA","o":-0.1,"v":15.6,"f":0},{"st":"PE360","g":"MipA","o":1.1,"v":17.6,"f":0},{"st":"PE360","g":"MipA","o":2.3,"v":20,"f":0},{"st":"PE360","g":"MipA","o":-0.1,"v":7.6,"f":0},
{"st":"PE360","g":"MipA","o":-1.6,"v":11.6,"f":1},{"st":"PE360","g":"MipA","o":1.3,"v":9.4,"f":1},
{"st":"PE360","g":"2479","o":-0.4,"v":44.5,"f":0},{"st":"PE360","g":"2479","o":-0.4,"v":34.5,"f":0},{"st":"PE360","g":"2479","o":-1.2,"v":30.5,"f":0},{"st":"PE360","g":"2479","o":0.4,"v":29,"f":0},{"st":"PE360","g":"2479","o":-3.0,"v":26.5,"f":0},{"st":"PE360","g":"2479","o":-1.8,"v":25.4,"f":0},{"st":"PE360","g":"2479","o":-0.5,"v":23.4,"f":0},{"st":"PE360","g":"2479","o":0.8,"v":24.3,"f":0},{"st":"PE360","g":"2479","o":2.1,"v":25.6,"f":0}
],
"igastar":[
{"st":"C350C1A","g":"Skp","v":43.3},{"st":"C350C1A","g":"MipA","v":43.3},{"st":"C350C1A","g":"2479","v":43.3},
{"st":"E24377A","g":"Skp","v":57.3},{"st":"E24377A","g":"MipA","v":57.3},{"st":"E24377A","g":"2479","v":57.3},
{"st":"E7476A","g":"Skp","v":80.7},{"st":"E7476A","g":"MipA","v":80.7},{"st":"E7476A","g":"2479","v":80.7},
{"st":"WS2173A","g":"Skp","v":74},{"st":"WS2173A","g":"MipA","v":74},{"st":"WS2173A","g":"2479","v":74},
{"st":"PE360","g":"Skp","v":70.6},{"st":"PE360","g":"MipA","v":70.6},{"st":"PE360","g":"2479","v":70.6}
]
},
"spacing":3,
"hconcat":[
{"title":{"text":"A","anchor":"start","fontSize":13,"fontWeight":"bold","color":"#111","offset":-9,"dx":-12},
 "vconcat":[
{"width":176,"height":119,"title":{"text":"C350C1A","offset":8},"layer":[
 {"data":{"name":"surv"},"transform":[{"filter":"datum.st==='C350C1A'"}],"mark":{"type":"line","interpolate":"step-after","strokeWidth":1,"opacity":0.85},
  "encoding":{"x":{"field":"t","type":"quantitative","scale":{"domain":[0,200],"nice":false},"axis":{"values":[0,50,100,150,200],"title":"h post-infection","tickSize":4,"titlePadding":2}},
   "y":{"field":"s","type":"quantitative","scale":{"domain":[0,110],"nice":false},"axis":{"values":[0,50,100],"title":"% mice alive","tickSize":4,"titlePadding":2}},
   "color":{"field":"g","type":"nominal","scale":{"domain":["PBS","GST","Skp","MipA","2479"],"range":["#3944a3","#e8352e","#2fae6e","#7d44b0","#f59c34"]},"legend":null}}},
 {"data":{"name":"survlab"},"transform":[{"filter":"datum.st==='C350C1A'"}],"mark":{"type":"text","align":"left","baseline":"middle","fontSize":9},
  "encoding":{"x":{"field":"t","type":"quantitative"},"y":{"field":"s","type":"quantitative"},"text":{"field":"txt"},"color":{"field":"g","type":"nominal","legend":null}}},
 {"data":{"name":"survstar"},"transform":[{"filter":"datum.st==='C350C1A'"}],"mark":{"type":"text","fontSize":7,"baseline":"middle","lineBreak":"\n","lineHeight":6,"color":"#111"},
  "encoding":{"x":{"field":"t","type":"quantitative"},"y":{"field":"s","type":"quantitative"},"text":{"field":"txt"}}}
]},
{"width":176,"height":119,"title":{"text":"E24377A","offset":8},"layer":[
 {"data":{"name":"surv"},"transform":[{"filter":"datum.st==='E24377A'"}],"mark":{"type":"line","interpolate":"step-after","strokeWidth":1,"opacity":0.85},
  "encoding":{"x":{"field":"t","type":"quantitative","scale":{"domain":[0,200],"nice":false},"axis":{"values":[0,50,100,150,200],"title":"h post-infection","tickSize":4,"titlePadding":2}},
   "y":{"field":"s","type":"quantitative","scale":{"domain":[0,110],"nice":false},"axis":{"values":[0,50,100],"title":"% mice alive","tickSize":4,"titlePadding":2}},
   "color":{"field":"g","type":"nominal","scale":{"domain":["PBS","GST","Skp","MipA","2479"],"range":["#3944a3","#e8352e","#2fae6e","#7d44b0","#f59c34"]},"legend":null}}},
 {"data":{"name":"survlab"},"transform":[{"filter":"datum.st==='E24377A'"}],"mark":{"type":"text","align":"left","baseline":"middle","fontSize":9},
  "encoding":{"x":{"field":"t","type":"quantitative"},"y":{"field":"s","type":"quantitative"},"text":{"field":"txt"},"color":{"field":"g","type":"nominal","legend":null}}},
 {"data":{"name":"survstar"},"transform":[{"filter":"datum.st==='E24377A'"}],"mark":{"type":"text","fontSize":7,"baseline":"middle","lineBreak":"\n","lineHeight":6,"color":"#111"},
  "encoding":{"x":{"field":"t","type":"quantitative"},"y":{"field":"s","type":"quantitative"},"text":{"field":"txt"}}}
]},
{"width":176,"height":110,"title":{"text":"E7476A","offset":8},"layer":[
 {"data":{"name":"surv"},"transform":[{"filter":"datum.st==='E7476A'"}],"mark":{"type":"line","interpolate":"step-after","strokeWidth":1,"opacity":0.85},
  "encoding":{"x":{"field":"t","type":"quantitative","scale":{"domain":[0,200],"nice":false},"axis":{"values":[0,50,100,150,200],"title":"h post-infection","tickSize":4,"titlePadding":2}},
   "y":{"field":"s","type":"quantitative","scale":{"domain":[0,110],"nice":false},"axis":{"values":[0,50,100],"title":"% mice alive","tickSize":4,"titlePadding":2}},
   "color":{"field":"g","type":"nominal","scale":{"domain":["PBS","GST","Skp","MipA","2479"],"range":["#3944a3","#e8352e","#2fae6e","#7d44b0","#f59c34"]},"legend":null}}},
 {"data":{"name":"survlab"},"transform":[{"filter":"datum.st==='E7476A'"}],"mark":{"type":"text","align":"left","baseline":"middle","fontSize":9},
  "encoding":{"x":{"field":"t","type":"quantitative"},"y":{"field":"s","type":"quantitative"},"text":{"field":"txt"},"color":{"field":"g","type":"nominal","legend":null}}},
 {"data":{"name":"survstar"},"transform":[{"filter":"datum.st==='E7476A'"}],"mark":{"type":"text","fontSize":7,"baseline":"middle","lineBreak":"\n","lineHeight":6,"color":"#111"},
  "encoding":{"x":{"field":"t","type":"quantitative"},"y":{"field":"s","type":"quantitative"},"text":{"field":"txt"}}}
]},
{"width":176,"height":110,"title":{"text":"WS2173A","offset":8},"layer":[
 {"data":{"name":"surv"},"transform":[{"filter":"datum.st==='WS2173A'"}],"mark":{"type":"line","interpolate":"step-after","strokeWidth":1,"opacity":0.85},
  "encoding":{"x":{"field":"t","type":"quantitative","scale":{"domain":[0,200],"nice":false},"axis":{"values":[0,50,100,150,200],"title":"h post-infection","tickSize":4,"titlePadding":2}},
   "y":{"field":"s","type":"quantitative","scale":{"domain":[0,110],"nice":false},"axis":{"values":[0,50,100],"title":"% mice alive","tickSize":4,"titlePadding":2}},
   "color":{"field":"g","type":"nominal","scale":{"domain":["PBS","GST","Skp","MipA","2479"],"range":["#3944a3","#e8352e","#2fae6e","#7d44b0","#f59c34"]},"legend":null}}},
 {"data":{"name":"survlab"},"transform":[{"filter":"datum.st==='WS2173A'"}],"mark":{"type":"text","align":"left","baseline":"middle","fontSize":9},
  "encoding":{"x":{"field":"t","type":"quantitative"},"y":{"field":"s","type":"quantitative"},"text":{"field":"txt"},"color":{"field":"g","type":"nominal","legend":null}}},
 {"data":{"name":"survstar"},"transform":[{"filter":"datum.st==='WS2173A'"}],"mark":{"type":"text","fontSize":7,"baseline":"middle","lineBreak":"\n","lineHeight":6,"color":"#111"},
  "encoding":{"x":{"field":"t","type":"quantitative"},"y":{"field":"s","type":"quantitative"},"text":{"field":"txt"}}}
]},
{"width":176,"height":110,"title":{"text":"PE360","offset":8},"layer":[
 {"data":{"name":"surv"},"transform":[{"filter":"datum.st==='PE360'"}],"mark":{"type":"line","interpolate":"step-after","strokeWidth":1,"opacity":0.85},
  "encoding":{"x":{"field":"t","type":"quantitative","scale":{"domain":[0,200],"nice":false},"axis":{"values":[0,50,100,150,200],"title":"h post-infection","tickSize":4,"titlePadding":2}},
   "y":{"field":"s","type":"quantitative","scale":{"domain":[0,110],"nice":false},"axis":{"values":[0,50,100],"title":"% mice alive","tickSize":4,"titlePadding":2}},
   "color":{"field":"g","type":"nominal","scale":{"domain":["PBS","GST","Skp","MipA","2479"],"range":["#3944a3","#e8352e","#2fae6e","#7d44b0","#f59c34"]},"legend":null}}},
 {"data":{"name":"survlab"},"transform":[{"filter":"datum.st==='PE360'"}],"mark":{"type":"text","align":"left","baseline":"middle","fontSize":9},
  "encoding":{"x":{"field":"t","type":"quantitative"},"y":{"field":"s","type":"quantitative"},"text":{"field":"txt"},"color":{"field":"g","type":"nominal","legend":null}}},
 {"data":{"name":"survstar"},"transform":[{"filter":"datum.st==='PE360'"}],"mark":{"type":"text","fontSize":7,"baseline":"middle","lineBreak":"\n","lineHeight":6,"color":"#111"},
  "encoding":{"x":{"field":"t","type":"quantitative"},"y":{"field":"s","type":"quantitative"},"text":{"field":"txt"}}}
]}
],"spacing":64,"bounds":"flush"},

{"title":{"text":"B","anchor":"start","fontSize":13,"fontWeight":"bold","color":"#111","offset":-9,"dx":-5},
 "vconcat":[
{"width":188,"height":120,"title":{"text":"C350C1A","offset":2},"layer":[
 {"data":{"name":"cfu"},"transform":[{"filter":"datum.st==='C350C1A' && datum.f==0"}],"mark":{"type":"point","filled":false,"size":24,"strokeWidth":1,"opacity":1},
  "encoding":{"x":{"field":"g","type":"nominal","scale":{"type":"band","domain":["PBS","GST","Skp","MipA","2479"],"paddingInner":0,"paddingOuter":0.02,"align":0},"axis":{"title":null,"ticks":false,"labelAngle":0,"labelPadding":5,"labelColor":{"condition":[{"test":"datum.value==='PBS'","value":"#3944a3"},{"test":"datum.value==='GST'","value":"#e8352e"},{"test":"datum.value==='Skp'","value":"#2fae6e"},{"test":"datum.value==='MipA'","value":"#7d44b0"}],"value":"#f59c34"}}},
   "xOffset":{"field":"o","type":"quantitative","scale":{"domain":[-5,5]}},
   "y":{"field":"v","type":"quantitative","scale":{"domain":[0,15],"nice":false},"axis":{"values":[0,5,10,15],"title":"CFUs (log₁₀) / g lung","tickSize":4,"titlePadding":3}},
   "color":{"field":"g","type":"nominal","scale":{"domain":["PBS","GST","Skp","MipA","2479"],"range":["#3944a3","#e8352e","#2fae6e","#7d44b0","#f59c34"]},"legend":null},
   "shape":{"field":"g","type":"nominal","scale":{"domain":["PBS","GST","Skp","MipA","2479"],"range":["circle","square","triangle-up","triangle-down","diamond"]},"legend":null}}},
 {"data":{"name":"cfu"},"transform":[{"filter":"datum.st==='C350C1A' && datum.f==1"}],"mark":{"type":"point","filled":true,"size":24,"opacity":1},
  "encoding":{"x":{"field":"g","type":"nominal"},"xOffset":{"field":"o","type":"quantitative"},"y":{"field":"v","type":"quantitative"},"color":{"field":"g","type":"nominal","legend":null},"shape":{"field":"g","type":"nominal","legend":null}}},
 {"data":{"name":"cfustar"},"transform":[{"filter":"datum.st==='C350C1A'"}],"mark":{"type":"text","text":"*","fontSize":9,"baseline":"middle","color":"#111"},
  "encoding":{"x":{"field":"g","type":"nominal"},"y":{"field":"v","type":"quantitative"}}}
]},
{"width":188,"height":120,"title":{"text":"E24377A","offset":2},"layer":[
 {"data":{"name":"cfu"},"transform":[{"filter":"datum.st==='E24377A' && datum.f==0"}],"mark":{"type":"point","filled":false,"size":24,"strokeWidth":1,"opacity":1},
  "encoding":{"x":{"field":"g","type":"nominal","scale":{"type":"band","domain":["PBS","GST","Skp","MipA","2479"],"paddingInner":0,"paddingOuter":0.02,"align":0},"axis":{"title":null,"ticks":false,"labelAngle":0,"labelPadding":5,"labelColor":{"condition":[{"test":"datum.value==='PBS'","value":"#3944a3"},{"test":"datum.value==='GST'","value":"#e8352e"},{"test":"datum.value==='Skp'","value":"#2fae6e"},{"test":"datum.value==='MipA'","value":"#7d44b0"}],"value":"#f59c34"}}},
   "xOffset":{"field":"o","type":"quantitative","scale":{"domain":[-5,5]}},
   "y":{"field":"v","type":"quantitative","scale":{"domain":[0,15],"nice":false},"axis":{"values":[0,5,10,15],"title":"CFUs (log₁₀) / g lung","tickSize":4,"titlePadding":3}},
   "color":{"field":"g","type":"nominal","scale":{"domain":["PBS","GST","Skp","MipA","2479"],"range":["#3944a3","#e8352e","#2fae6e","#7d44b0","#f59c34"]},"legend":null},
   "shape":{"field":"g","type":"nominal","scale":{"domain":["PBS","GST","Skp","MipA","2479"],"range":["circle","square","triangle-up","triangle-down","diamond"]},"legend":null}}},
 {"data":{"name":"cfu"},"transform":[{"filter":"datum.st==='E24377A' && datum.f==1"}],"mark":{"type":"point","filled":true,"size":24,"opacity":1},
  "encoding":{"x":{"field":"g","type":"nominal"},"xOffset":{"field":"o","type":"quantitative"},"y":{"field":"v","type":"quantitative"},"color":{"field":"g","type":"nominal","legend":null},"shape":{"field":"g","type":"nominal","legend":null}}},
 {"data":{"name":"cfustar"},"transform":[{"filter":"datum.st==='E24377A'"}],"mark":{"type":"text","text":"*","fontSize":9,"baseline":"middle","color":"#111"},
  "encoding":{"x":{"field":"g","type":"nominal"},"y":{"field":"v","type":"quantitative"}}}
]},
{"width":188,"height":120,"title":{"text":"E7476A","offset":2},"layer":[
 {"data":{"name":"cfu"},"transform":[{"filter":"datum.st==='E7476A' && datum.f==0"}],"mark":{"type":"point","filled":false,"size":24,"strokeWidth":1,"opacity":1},
  "encoding":{"x":{"field":"g","type":"nominal","scale":{"type":"band","domain":["PBS","GST","Skp","MipA","2479"],"paddingInner":0,"paddingOuter":0.02,"align":0},"axis":{"title":null,"ticks":false,"labelAngle":0,"labelPadding":5,"labelColor":{"condition":[{"test":"datum.value==='PBS'","value":"#3944a3"},{"test":"datum.value==='GST'","value":"#e8352e"},{"test":"datum.value==='Skp'","value":"#2fae6e"},{"test":"datum.value==='MipA'","value":"#7d44b0"}],"value":"#f59c34"}}},
   "xOffset":{"field":"o","type":"quantitative","scale":{"domain":[-5,5]}},
   "y":{"field":"v","type":"quantitative","scale":{"domain":[0,15],"nice":false},"axis":{"values":[0,5,10,15],"title":"CFUs (log₁₀) / g lung","tickSize":4,"titlePadding":3}},
   "color":{"field":"g","type":"nominal","scale":{"domain":["PBS","GST","Skp","MipA","2479"],"range":["#3944a3","#e8352e","#2fae6e","#7d44b0","#f59c34"]},"legend":null},
   "shape":{"field":"g","type":"nominal","scale":{"domain":["PBS","GST","Skp","MipA","2479"],"range":["circle","square","triangle-up","triangle-down","diamond"]},"legend":null}}},
 {"data":{"name":"cfu"},"transform":[{"filter":"datum.st==='E7476A' && datum.f==1"}],"mark":{"type":"point","filled":true,"size":24,"opacity":1},
  "encoding":{"x":{"field":"g","type":"nominal"},"xOffset":{"field":"o","type":"quantitative"},"y":{"field":"v","type":"quantitative"},"color":{"field":"g","type":"nominal","legend":null},"shape":{"field":"g","type":"nominal","legend":null}}},
 {"data":{"name":"cfustar"},"transform":[{"filter":"datum.st==='E7476A'"}],"mark":{"type":"text","text":"*","fontSize":9,"baseline":"middle","color":"#111"},
  "encoding":{"x":{"field":"g","type":"nominal"},"y":{"field":"v","type":"quantitative"}}}
]},
{"width":188,"height":120,"title":{"text":"WS2173A","offset":2},"layer":[
 {"data":{"name":"cfu"},"transform":[{"filter":"datum.st==='WS2173A' && datum.f==0"}],"mark":{"type":"point","filled":false,"size":24,"strokeWidth":1,"opacity":1},
  "encoding":{"x":{"field":"g","type":"nominal","scale":{"type":"band","domain":["PBS","GST","Skp","MipA","2479"],"paddingInner":0,"paddingOuter":0.02,"align":0},"axis":{"title":null,"ticks":false,"labelAngle":0,"labelPadding":5,"labelColor":{"condition":[{"test":"datum.value==='PBS'","value":"#3944a3"},{"test":"datum.value==='GST'","value":"#e8352e"},{"test":"datum.value==='Skp'","value":"#2fae6e"},{"test":"datum.value==='MipA'","value":"#7d44b0"}],"value":"#f59c34"}}},
   "xOffset":{"field":"o","type":"quantitative","scale":{"domain":[-5,5]}},
   "y":{"field":"v","type":"quantitative","scale":{"domain":[0,15],"nice":false},"axis":{"values":[0,5,10,15],"title":"CFUs (log₁₀) / g lung","tickSize":4,"titlePadding":3}},
   "color":{"field":"g","type":"nominal","scale":{"domain":["PBS","GST","Skp","MipA","2479"],"range":["#3944a3","#e8352e","#2fae6e","#7d44b0","#f59c34"]},"legend":null},
   "shape":{"field":"g","type":"nominal","scale":{"domain":["PBS","GST","Skp","MipA","2479"],"range":["circle","square","triangle-up","triangle-down","diamond"]},"legend":null}}},
 {"data":{"name":"cfu"},"transform":[{"filter":"datum.st==='WS2173A' && datum.f==1"}],"mark":{"type":"point","filled":true,"size":24,"opacity":1},
  "encoding":{"x":{"field":"g","type":"nominal"},"xOffset":{"field":"o","type":"quantitative"},"y":{"field":"v","type":"quantitative"},"color":{"field":"g","type":"nominal","legend":null},"shape":{"field":"g","type":"nominal","legend":null}}},
 {"data":{"name":"cfustar"},"transform":[{"filter":"datum.st==='WS2173A'"}],"mark":{"type":"text","text":"*","fontSize":9,"baseline":"middle","color":"#111"},
  "encoding":{"x":{"field":"g","type":"nominal"},"y":{"field":"v","type":"quantitative"}}}
]},
{"width":188,"height":120,"title":{"text":"PE360","offset":2},"layer":[
 {"data":{"name":"cfu"},"transform":[{"filter":"datum.st==='PE360' && datum.f==0"}],"mark":{"type":"point","filled":false,"size":24,"strokeWidth":1,"opacity":1},
  "encoding":{"x":{"field":"g","type":"nominal","scale":{"type":"band","domain":["PBS","GST","Skp","MipA","2479"],"paddingInner":0,"paddingOuter":0.02,"align":0},"axis":{"title":null,"ticks":false,"labelAngle":0,"labelPadding":5,"labelColor":{"condition":[{"test":"datum.value==='PBS'","value":"#3944a3"},{"test":"datum.value==='GST'","value":"#e8352e"},{"test":"datum.value==='Skp'","value":"#2fae6e"},{"test":"datum.value==='MipA'","value":"#7d44b0"}],"value":"#f59c34"}}},
   "xOffset":{"field":"o","type":"quantitative","scale":{"domain":[-5,5]}},
   "y":{"field":"v","type":"quantitative","scale":{"domain":[0,15],"nice":false},"axis":{"values":[0,5,10,15],"title":"CFUs (log₁₀) / g lung","tickSize":4,"titlePadding":3}},
   "color":{"field":"g","type":"nominal","scale":{"domain":["PBS","GST","Skp","MipA","2479"],"range":["#3944a3","#e8352e","#2fae6e","#7d44b0","#f59c34"]},"legend":null},
   "shape":{"field":"g","type":"nominal","scale":{"domain":["PBS","GST","Skp","MipA","2479"],"range":["circle","square","triangle-up","triangle-down","diamond"]},"legend":null}}},
 {"data":{"name":"cfu"},"transform":[{"filter":"datum.st==='PE360' && datum.f==1"}],"mark":{"type":"point","filled":true,"size":24,"opacity":1},
  "encoding":{"x":{"field":"g","type":"nominal"},"xOffset":{"field":"o","type":"quantitative"},"y":{"field":"v","type":"quantitative"},"color":{"field":"g","type":"nominal","legend":null},"shape":{"field":"g","type":"nominal","legend":null}}},
 {"data":{"name":"cfustar"},"transform":[{"filter":"datum.st==='PE360'"}],"mark":{"type":"text","text":"*","fontSize":9,"baseline":"middle","color":"#111"},
  "encoding":{"x":{"field":"g","type":"nominal"},"y":{"field":"v","type":"quantitative"}}}
]}
],"spacing":64,"bounds":"flush"},

{"title":{"text":"C","anchor":"start","fontSize":13,"fontWeight":"bold","color":"#111","offset":-9,"dx":-6},
 "vconcat":[
{"width":187,"height":120,"title":{"text":"C350C1A","offset":2},"layer":[
 {"data":{"name":"iga"},"transform":[{"filter":"datum.st==='C350C1A' && datum.f==0"}],"mark":{"type":"point","filled":false,"size":30,"strokeWidth":1,"opacity":1},
  "encoding":{"x":{"field":"g","type":"nominal","scale":{"type":"band","domain":["GST","Skp","MipA","2479"],"paddingInner":0,"paddingOuter":0},"axis":{"title":null,"ticks":false,"labelAngle":0,"labelPadding":4,"labelColor":{"condition":[{"test":"datum.value==='GST'","value":"#e8352e"},{"test":"datum.value==='Skp'","value":"#2fae6e"},{"test":"datum.value==='MipA'","value":"#7d44b0"}],"value":"#f59c34"}}},
   "xOffset":{"field":"o","type":"quantitative","scale":{"domain":[-5,5]}},
   "y":{"field":"v","type":"quantitative","scale":{"domain":[0,80],"nice":false},"axis":{"values":[0,20,40,60,80],"title":"Fold IgA Response","tickSize":4,"titlePadding":4}},
   "color":{"field":"g","type":"nominal","scale":{"domain":["PBS","GST","Skp","MipA","2479"],"range":["#3944a3","#e8352e","#2fae6e","#7d44b0","#f59c34"]},"legend":null},
   "shape":{"field":"g","type":"nominal","scale":{"domain":["PBS","GST","Skp","MipA","2479"],"range":["circle","square","triangle-up","triangle-down","diamond"]},"legend":null}}},
 {"data":{"name":"iga"},"transform":[{"filter":"datum.st==='C350C1A' && datum.f==1"}],"mark":{"type":"point","filled":true,"size":30,"opacity":1},
  "encoding":{"x":{"field":"g","type":"nominal"},"xOffset":{"field":"o","type":"quantitative"},"y":{"field":"v","type":"quantitative"},"color":{"field":"g","type":"nominal","legend":null},"shape":{"field":"g","type":"nominal","legend":null}}},
 {"data":{"name":"igastar"},"transform":[{"filter":"datum.st==='C350C1A'"}],"mark":{"type":"text","text":"*","fontSize":9,"baseline":"middle","color":"#111"},
  "encoding":{"x":{"field":"g","type":"nominal"},"y":{"field":"v","type":"quantitative"}}}
]},
{"width":187,"height":120,"title":{"text":"E24377A","offset":2},"layer":[
 {"data":{"name":"iga"},"transform":[{"filter":"datum.st==='E24377A' && datum.f==0"}],"mark":{"type":"point","filled":false,"size":30,"strokeWidth":1,"opacity":1},
  "encoding":{"x":{"field":"g","type":"nominal","scale":{"type":"band","domain":["GST","Skp","MipA","2479"],"paddingInner":0,"paddingOuter":0},"axis":{"title":null,"ticks":false,"labelAngle":0,"labelPadding":4,"labelColor":{"condition":[{"test":"datum.value==='GST'","value":"#e8352e"},{"test":"datum.value==='Skp'","value":"#2fae6e"},{"test":"datum.value==='MipA'","value":"#7d44b0"}],"value":"#f59c34"}}},
   "xOffset":{"field":"o","type":"quantitative","scale":{"domain":[-5,5]}},
   "y":{"field":"v","type":"quantitative","scale":{"domain":[0,80],"nice":false},"axis":{"values":[0,20,40,60,80],"title":"Fold IgA Response","tickSize":4,"titlePadding":4}},
   "color":{"field":"g","type":"nominal","scale":{"domain":["PBS","GST","Skp","MipA","2479"],"range":["#3944a3","#e8352e","#2fae6e","#7d44b0","#f59c34"]},"legend":null},
   "shape":{"field":"g","type":"nominal","scale":{"domain":["PBS","GST","Skp","MipA","2479"],"range":["circle","square","triangle-up","triangle-down","diamond"]},"legend":null}}},
 {"data":{"name":"iga"},"transform":[{"filter":"datum.st==='E24377A' && datum.f==1"}],"mark":{"type":"point","filled":true,"size":30,"opacity":1},
  "encoding":{"x":{"field":"g","type":"nominal"},"xOffset":{"field":"o","type":"quantitative"},"y":{"field":"v","type":"quantitative"},"color":{"field":"g","type":"nominal","legend":null},"shape":{"field":"g","type":"nominal","legend":null}}},
 {"data":{"name":"igastar"},"transform":[{"filter":"datum.st==='E24377A'"}],"mark":{"type":"text","text":"*","fontSize":9,"baseline":"middle","color":"#111"},
  "encoding":{"x":{"field":"g","type":"nominal"},"y":{"field":"v","type":"quantitative"}}}
]},
{"width":187,"height":120,"title":{"text":"E7476A","offset":2},"layer":[
 {"data":{"name":"iga"},"transform":[{"filter":"datum.st==='E7476A' && datum.f==0"}],"mark":{"type":"point","filled":false,"size":30,"strokeWidth":1,"opacity":1},
  "encoding":{"x":{"field":"g","type":"nominal","scale":{"type":"band","domain":["GST","Skp","MipA","2479"],"paddingInner":0,"paddingOuter":0},"axis":{"title":null,"ticks":false,"labelAngle":0,"labelPadding":4,"labelColor":{"condition":[{"test":"datum.value==='GST'","value":"#e8352e"},{"test":"datum.value==='Skp'","value":"#2fae6e"},{"test":"datum.value==='MipA'","value":"#7d44b0"}],"value":"#f59c34"}}},
   "xOffset":{"field":"o","type":"quantitative","scale":{"domain":[-5,5]}},
   "y":{"field":"v","type":"quantitative","scale":{"domain":[0,80],"nice":false},"axis":{"values":[0,20,40,60,80],"title":"Fold IgA Response","tickSize":4,"titlePadding":4}},
   "color":{"field":"g","type":"nominal","scale":{"domain":["PBS","GST","Skp","MipA","2479"],"range":["#3944a3","#e8352e","#2fae6e","#7d44b0","#f59c34"]},"legend":null},
   "shape":{"field":"g","type":"nominal","scale":{"domain":["PBS","GST","Skp","MipA","2479"],"range":["circle","square","triangle-up","triangle-down","diamond"]},"legend":null}}},
 {"data":{"name":"iga"},"transform":[{"filter":"datum.st==='E7476A' && datum.f==1"}],"mark":{"type":"point","filled":true,"size":30,"opacity":1},
  "encoding":{"x":{"field":"g","type":"nominal"},"xOffset":{"field":"o","type":"quantitative"},"y":{"field":"v","type":"quantitative"},"color":{"field":"g","type":"nominal","legend":null},"shape":{"field":"g","type":"nominal","legend":null}}},
 {"data":{"name":"igastar"},"transform":[{"filter":"datum.st==='E7476A'"}],"mark":{"type":"text","text":"*","fontSize":9,"baseline":"middle","color":"#111"},
  "encoding":{"x":{"field":"g","type":"nominal"},"y":{"field":"v","type":"quantitative"}}}
]},
{"width":187,"height":120,"title":{"text":"WS2173A","offset":2},"layer":[
 {"data":{"name":"iga"},"transform":[{"filter":"datum.st==='WS2173A' && datum.f==0"}],"mark":{"type":"point","filled":false,"size":30,"strokeWidth":1,"opacity":1},
  "encoding":{"x":{"field":"g","type":"nominal","scale":{"type":"band","domain":["GST","Skp","MipA","2479"],"paddingInner":0,"paddingOuter":0},"axis":{"title":null,"ticks":false,"labelAngle":0,"labelPadding":4,"labelColor":{"condition":[{"test":"datum.value==='GST'","value":"#e8352e"},{"test":"datum.value==='Skp'","value":"#2fae6e"},{"test":"datum.value==='MipA'","value":"#7d44b0"}],"value":"#f59c34"}}},
   "xOffset":{"field":"o","type":"quantitative","scale":{"domain":[-5,5]}},
   "y":{"field":"v","type":"quantitative","scale":{"domain":[0,80],"nice":false},"axis":{"values":[0,20,40,60,80],"title":"Fold IgA Response","tickSize":4,"titlePadding":4}},
   "color":{"field":"g","type":"nominal","scale":{"domain":["PBS","GST","Skp","MipA","2479"],"range":["#3944a3","#e8352e","#2fae6e","#7d44b0","#f59c34"]},"legend":null},
   "shape":{"field":"g","type":"nominal","scale":{"domain":["PBS","GST","Skp","MipA","2479"],"range":["circle","square","triangle-up","triangle-down","diamond"]},"legend":null}}},
 {"data":{"name":"iga"},"transform":[{"filter":"datum.st==='WS2173A' && datum.f==1"}],"mark":{"type":"point","filled":true,"size":30,"opacity":1},
  "encoding":{"x":{"field":"g","type":"nominal"},"xOffset":{"field":"o","type":"quantitative"},"y":{"field":"v","type":"quantitative"},"color":{"field":"g","type":"nominal","legend":null},"shape":{"field":"g","type":"nominal","legend":null}}},
 {"data":{"name":"igastar"},"transform":[{"filter":"datum.st==='WS2173A'"}],"mark":{"type":"text","text":"*","fontSize":9,"baseline":"middle","color":"#111"},
  "encoding":{"x":{"field":"g","type":"nominal"},"y":{"field":"v","type":"quantitative"}}}
]},
{"width":187,"height":120,"title":{"text":"PE360","offset":2},"layer":[
 {"data":{"name":"iga"},"transform":[{"filter":"datum.st==='PE360' && datum.f==0"}],"mark":{"type":"point","filled":false,"size":30,"strokeWidth":1,"opacity":1},
  "encoding":{"x":{"field":"g","type":"nominal","scale":{"type":"band","domain":["GST","Skp","MipA","2479"],"paddingInner":0,"paddingOuter":0},"axis":{"title":null,"ticks":false,"labelAngle":0,"labelPadding":4,"labelColor":{"condition":[{"test":"datum.value==='GST'","value":"#e8352e"},{"test":"datum.value==='Skp'","value":"#2fae6e"},{"test":"datum.value==='MipA'","value":"#7d44b0"}],"value":"#f59c34"}}},
   "xOffset":{"field":"o","type":"quantitative","scale":{"domain":[-5,5]}},
   "y":{"field":"v","type":"quantitative","scale":{"domain":[0,80],"nice":false},"axis":{"values":[0,20,40,60,80],"title":"Fold IgA Response","tickSize":4,"titlePadding":4}},
   "color":{"field":"g","type":"nominal","scale":{"domain":["PBS","GST","Skp","MipA","2479"],"range":["#3944a3","#e8352e","#2fae6e","#7d44b0","#f59c34"]},"legend":null},
   "shape":{"field":"g","type":"nominal","scale":{"domain":["PBS","GST","Skp","MipA","2479"],"range":["circle","square","triangle-up","triangle-down","diamond"]},"legend":null}}},
 {"data":{"name":"iga"},"transform":[{"filter":"datum.st==='PE360' && datum.f==1"}],"mark":{"type":"point","filled":true,"size":30,"opacity":1},
  "encoding":{"x":{"field":"g","type":"nominal"},"xOffset":{"field":"o","type":"quantitative"},"y":{"field":"v","type":"quantitative"},"color":{"field":"g","type":"nominal","legend":null},"shape":{"field":"g","type":"nominal","legend":null}}},
 {"data":{"name":"igastar"},"transform":[{"filter":"datum.st==='PE360'"}],"mark":{"type":"text","text":"*","fontSize":9,"baseline":"middle","color":"#111"},
  "encoding":{"x":{"field":"g","type":"nominal"},"y":{"field":"v","type":"quantitative"}}}
]}
],"spacing":64,"bounds":"flush"}
],
"config":{
 "font":"Liberation Sans",
 "view":{"stroke":null},
 "axis":{"grid":false,"domainColor":"#444","tickColor":"#444","labelColor":"#222","titleColor":"#222","labelFont":"Liberation Sans","titleFont":"Liberation Sans","titleFontWeight":"normal","labelFontSize":10,"titleFontSize":9.5},
 "title":{"fontSize":12,"fontWeight":"normal","color":"#222","font":"Liberation Sans"},
 "text":{"font":"Liberation Sans"}
}
}
